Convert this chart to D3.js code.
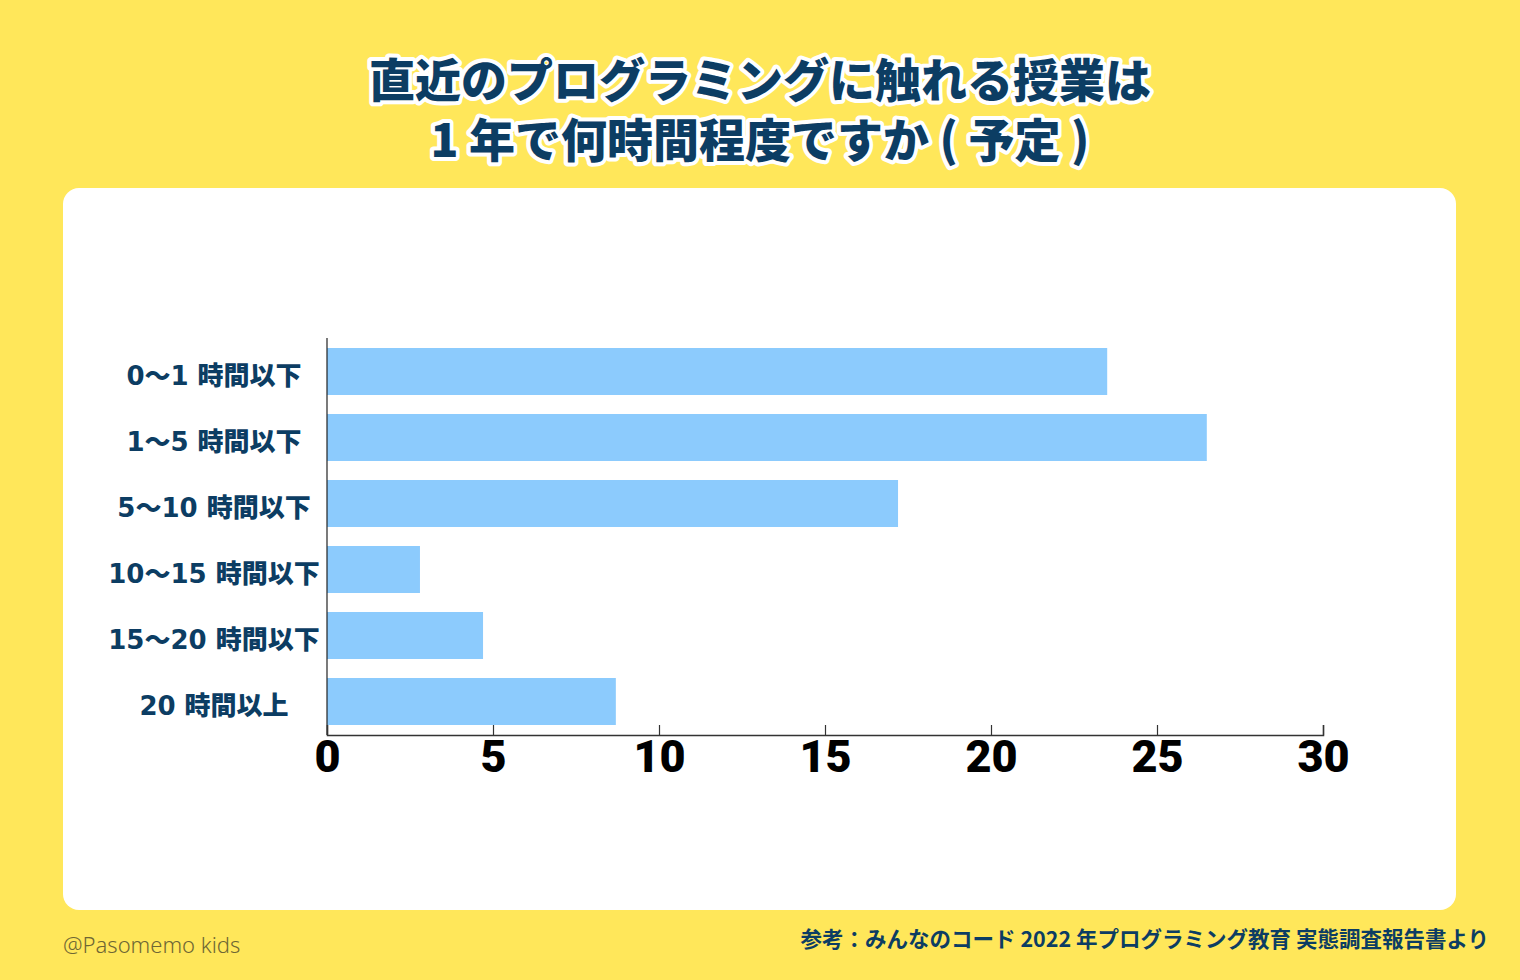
<!DOCTYPE html>
<html>
<head>
<meta charset="utf-8">
<script src="https://cdn.jsdelivr.net/npm/d3@7"></script>
<style>
  html, body { margin: 0; padding: 0; background: #ffe75a; }
  svg { display: block; }
</style>
</head>
<body>
<svg id="chart" width="1520" height="980"></svg>
<script>
// data
const categories = ["0〜1 時間以下", "1〜5 時間以下", "5〜10 時間以下", "10〜15 時間以下", "15〜20 時間以下", "20 時間以上"];
const values = [23.5, 26.5, 17.2, 2.8, 4.7, 8.7];
const tickValues = [0, 5, 10, 15, 20, 25, 30];
const titleLines = ["直近のプログラミングに触れる授業は", "1 年で何時間程度ですか ( 予定 )"];
const sourceText = "参考：みんなのコード 2022 年プログラミング教育 実態調査報告書より";
const creditText = "@Pasomemo kids";

function drawChart(holder){
	let svg = d3.select(holder);
	let width = 1520, height = 980;
	const navy = "#0c3d63";
	const jp = "'Noto Sans CJK JP', 'Noto Sans', sans-serif";

	svg.append("rect")
		.attr("width", width).attr("height", height)
		.attr("fill", "#ffe75a");

	// white card
	svg.append("rect")
		.attr("x", 63).attr("y", 188)
		.attr("width", 1393).attr("height", 722)
		.attr("rx", 16).attr("ry", 16)
		.attr("fill", "#ffffff");

	// title with white outline
	let title = svg.append("g");
	titleLines.forEach(function(t, i){
		title.append("text")
			.attr("x", 760).attr("y", 97 + i * 60)
			.attr("text-anchor", "middle")
			.style("font-family", jp)
			.style("font-weight", 900)
			.style("font-size", "46px")
			.attr("fill", navy)
			.attr("stroke", "#ffffff")
			.attr("stroke-width", 8)
			.attr("stroke-linejoin", "round")
			.attr("paint-order", "stroke")
			.text(t);
	});

	let margin = {left: 327, top: 338, right: 197};
	let axisY = 735;

	let xScale = d3.scaleLinear()
		.domain([0, 30])
		.range([margin.left, width - margin.right]);
	let yScale = d3.scaleBand()
		.domain(categories)
		.range([348, 725])
		.paddingInner(0.288)
		.paddingOuter(0);

	svg.append("g").selectAll("rect.bar")
		.data(values)
		.enter()
		.append("rect")
		.attr("class", "bar")
		.attr("x", xScale(0))
		.attr("y", (d, i) => yScale(categories[i]))
		.attr("width", d => xScale(d) - xScale(0))
		.attr("height", yScale.bandwidth())
		.attr("fill", "#8ccbfd");

	// y axis line
	svg.append("line")
		.attr("x1", xScale(0)).attr("x2", xScale(0))
		.attr("y1", margin.top).attr("y2", axisY)
		.attr("stroke", "#222").attr("stroke-width", 1.2);

	// x axis, ticks pointing up
	let axisX = svg.append("g")
		.attr("transform", "translate(0," + axisY + ")")
		.call(d3.axisBottom(xScale).tickValues(tickValues).tickSize(-10).tickPadding(0).tickFormat(d3.format("d")));
	axisX.select(".domain").attr("stroke", "#333").attr("stroke-width", 1.5);
	axisX.selectAll(".tick line").attr("stroke", "#333").attr("stroke-width", 1.2);
	axisX.selectAll(".tick text")
		.attr("y", 37)
		.attr("dy", 0)
		.attr("fill", "#000")
		.style("font-family", "Roboto, 'Liberation Sans', sans-serif")
		.style("font-weight", 900)
		.style("font-size", "45px");

	// category labels
	svg.append("g").selectAll("text.cat")
		.data(categories)
		.enter()
		.append("text")
		.attr("class", "cat")
		.attr("x", 214)
		.attr("y", d => yScale(d) + yScale.bandwidth() / 2 + 4)
		.attr("dy", "0.36em")
		.attr("text-anchor", "middle")
		.attr("fill", navy)
		.style("font-family", "'DejaVu Sans', " + jp)
		.style("font-weight", 900)
		.style("font-size", "26px")
		.text(d => d);

	// footer
	svg.append("text")
		.attr("x", 63).attr("y", 953)
		.attr("fill", "#6e6634")
		.style("font-family", "'Noto Sans', 'Open Sans', sans-serif")
		.style("font-weight", 300)
		.style("font-size", "22px")
		.text(creditText);

	svg.append("text")
		.attr("x", 1489).attr("y", 947)
		.attr("text-anchor", "end")
		.attr("fill", navy)
		.style("font-family", jp)
		.style("font-weight", 700)
		.style("font-size", "21.5px")
		.text(sourceText);
}

drawChart("#chart");
</script>
</body>
</html>
